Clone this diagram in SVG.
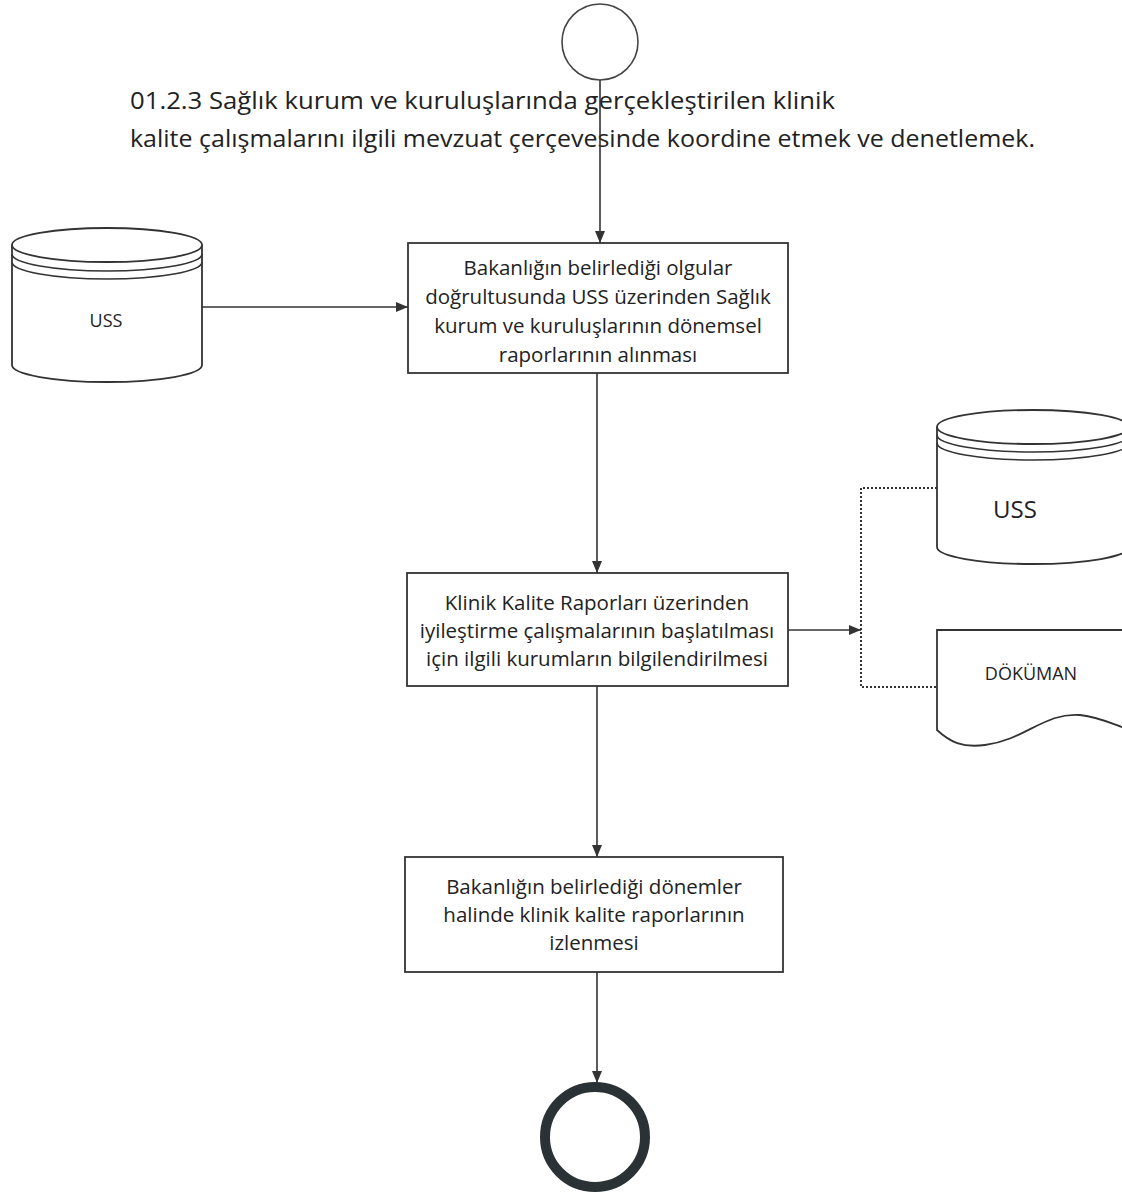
<svg xmlns="http://www.w3.org/2000/svg" width="1122" height="1198" viewBox="0 0 1122 1198">
<style>
.ln{fill:none;stroke:#333;stroke-width:1.6}
.box{fill:#fff;stroke:#333;stroke-width:1.8}
.t{font-family:"Open Sans","Noto Sans",sans-serif;fill:#222;text-anchor:middle}
.bt{font-size:20.5px}
.title{font-family:"Open Sans","Noto Sans",sans-serif;font-size:24px;fill:#222}
.dot{fill:none;stroke:#333;stroke-width:2;stroke-dasharray:2 2}
</style>
<defs>
<marker id="ah" viewBox="0 0 12 10" refX="12" refY="5" markerWidth="12" markerHeight="10" markerUnits="userSpaceOnUse" orient="auto">
<path d="M0,0 L12,5 L0,10 Z" fill="#333"/>
</marker>
</defs>
<rect width="1122" height="1198" fill="#fff"/>

<g id="title">
<text class="title" x="130" y="109" textLength="705" lengthAdjust="spacingAndGlyphs">01.2.3 Sağlık kurum ve kuruluşlarında gerçekleştirilen klinik</text>
<text class="title" x="130" y="147" textLength="905" lengthAdjust="spacingAndGlyphs">kalite çalışmalarını ilgili mevzuat çerçevesinde koordine etmek ve denetlemek.</text>
</g>

<g id="connectors">
<line class="ln" x1="600" y1="80" x2="600" y2="243" marker-end="url(#ah)"/>
<line class="ln" x1="202" y1="307" x2="408" y2="307" marker-end="url(#ah)"/>
<line class="ln" x1="597" y1="373" x2="597" y2="573" marker-end="url(#ah)"/>
<line class="ln" x1="788" y1="630" x2="861" y2="630" marker-end="url(#ah)"/>
<line class="ln" x1="597" y1="686" x2="597" y2="857" marker-end="url(#ah)"/>
<line class="ln" x1="597" y1="972" x2="597" y2="1083" marker-end="url(#ah)"/>
<path class="dot" d="M937,488 H861 V687 H937"/>
</g>

<g id="start">
<circle cx="600" cy="42" r="38" fill="#fff" stroke="#444" stroke-width="1.6"/>
</g>

<g id="uss-left">
<path class="box" d="M12,245 V365 A95,17 0 0 0 202,365 V245"/>
<ellipse cx="107" cy="245" rx="95" ry="17" fill="#fff" stroke="#333" stroke-width="1.8"/>
<path class="ln" d="M12,254 A95,17 0 0 0 202,254"/>
<path class="ln" d="M12,262 A95,17 0 0 0 202,262"/>
<text class="t" x="106" y="327" font-size="18">USS</text>
</g>

<g id="box1">
<rect class="box" x="408" y="243" width="380" height="130"/>
<text class="t bt" x="598" y="275">Bakanlığın belirlediği olgular</text>
<text class="t bt" x="598" y="304">doğrultusunda USS üzerinden Sağlık</text>
<text class="t bt" x="598" y="333">kurum ve kuruluşlarının dönemsel</text>
<text class="t bt" x="598" y="362">raporlarının alınması</text>
</g>

<g id="box2">
<rect class="box" x="407" y="573" width="381" height="113"/>
<text class="t bt" x="597" y="610">Klinik Kalite Raporları üzerinden</text>
<text class="t bt" x="597" y="638">iyileştirme çalışmalarının başlatılması</text>
<text class="t bt" x="597" y="666">için ilgili kurumların bilgilendirilmesi</text>
</g>

<g id="uss-right">
<path class="box" d="M937,427 V547 A96,17 0 0 0 1129,547 V427"/>
<ellipse cx="1033" cy="427" rx="96" ry="17" fill="#fff" stroke="#333" stroke-width="1.8"/>
<path class="ln" d="M937,435 A96,17 0 0 0 1129,435"/>
<path class="ln" d="M937,443 A96,17 0 0 0 1129,443"/>
<text class="t" x="1015" y="518" font-size="24">USS</text>
</g>

<g id="document">
<path class="box" d="M1130,630 H937 V730 C950,742 962,748 985,745 C1025,740 1045,712 1080,715 C1100,717 1115,725 1130,730"/>
<text class="t" x="1031" y="680" font-size="18">DÖKÜMAN</text>
</g>

<g id="box3">
<rect class="box" x="405" y="857" width="378" height="115"/>
<text class="t bt" x="594" y="894">Bakanlığın belirlediği dönemler</text>
<text class="t bt" x="594" y="922">halinde klinik kalite raporlarının</text>
<text class="t bt" x="594" y="950">izlenmesi</text>
</g>

<g id="end">
<circle cx="595" cy="1137" r="50" fill="#fff" stroke="#2b3236" stroke-width="10"/>
</g>
</svg>
